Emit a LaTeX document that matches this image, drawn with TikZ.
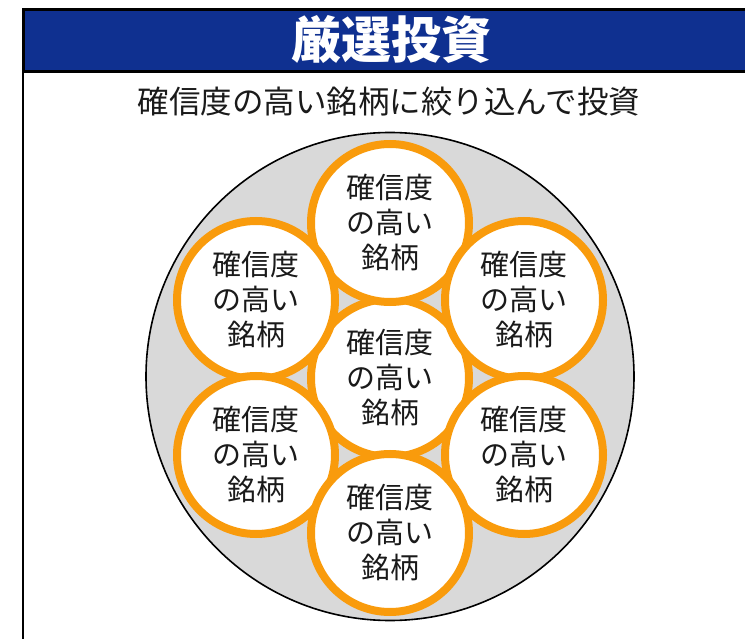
\documentclass[tikz,border=0pt]{standalone}
\usepackage{fontspec}
\newfontfamily\jp{Noto Sans CJK JP}
\definecolor{hdrblue}{HTML}{0F3090}
\definecolor{ring}{HTML}{F99B0C}
\definecolor{bggray}{HTML}{D9D9D9}
\definecolor{txt}{HTML}{1A1A1A}
\begin{document}
\begin{tikzpicture}[x=1pt,y=-1pt,
  stock/.style={circle,draw=ring,line width=8pt,fill=white,minimum size=158pt,inner sep=0pt,
    align=center,text=txt,font=\jp\fontsize{29}{35}\selectfont},
  bigc/.style={circle,draw=black,line width=1.6pt,fill=bggray,minimum size=488pt,inner sep=0pt},
  frameline/.style={draw=black,line width=2.2pt}]
\useasboundingbox (0,0) rectangle (745,639);
\clip (0,0) rectangle (745,639);
\fill[white] (0,0) rectangle (745,639);
% frame
\node[frameline,fill=hdrblue,minimum width=740pt,minimum height=62pt,inner sep=0pt,anchor=north west] (hdr) at (23,8.5) {};
\draw[frameline] (23,8.5) -- (23,650);
\node[text=white,font=\jp\bfseries\fontsize{50}{50}\selectfont] (title) at (391,40) {厳選投資};
\node[text=txt,font=\jp\fontsize{31.5}{32}\selectfont] (sub) at (389,102) {確信度の高い銘柄に絞り込んで投資};
% big circle
\node[bigc] (big) at (390,376.5) {};
% small circles
\node[stock] (c0) at (390,378) {確信度\\の高い\\銘柄};
\node[stock] (c1) at (390,223) {確信度\\の高い\\銘柄};
\node[stock] (c2) at (256,300) {確信度\\の高い\\銘柄};
\node[stock] (c3) at (524,300) {確信度\\の高い\\銘柄};
\node[stock] (c4) at (256,455) {確信度\\の高い\\銘柄};
\node[stock] (c5) at (524,455) {確信度\\の高い\\銘柄};
\node[stock] (c6) at (390,533) {確信度\\の高い\\銘柄};
\end{tikzpicture}
\end{document}
